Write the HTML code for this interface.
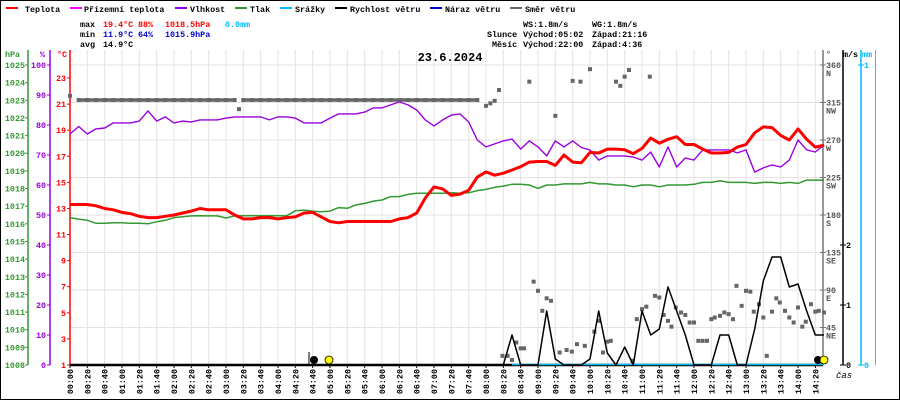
<!DOCTYPE html>
<html><head><meta charset="utf-8">
<style>
html,body{margin:0;padding:0;background:#fff;}
svg{display:block;font-family:"Liberation Mono",monospace;}
</style></head>
<body>
<svg id="chart" width="900" height="400" viewBox="0 0 900 400" xmlns="http://www.w3.org/2000/svg">
<rect x="0.5" y="0.5" width="899" height="399" fill="#fff" stroke="#000"/>
<g id="legend" font-size="8.4" font-weight="bold">
  <g><rect x="6" y="7" width="12" height="2" fill="#f00"/><text x="25" y="12">Teplota</text></g>
  <g><rect x="70" y="7" width="12" height="2" fill="#f0f"/><text x="84" y="12">Přízemní teplota</text></g>
  <g><rect x="175" y="7" width="12" height="2" fill="#9900dd"/><text x="190" y="12">Vlhkost</text></g>
  <g><rect x="235" y="7" width="12" height="2" fill="#339933"/><text x="250" y="12">Tlak</text></g>
  <g><rect x="280" y="7" width="12" height="2" fill="#00bbff"/><text x="295" y="12">Srážky</text></g>
  <g><rect x="335" y="7" width="12" height="2" fill="#000"/><text x="350" y="12">Rychlost větru</text></g>
  <g><rect x="430" y="7" width="12" height="2" fill="#0000cc"/><text x="445" y="12">Náraz větru</text></g>
  <g><rect x="510" y="7" width="12" height="2" fill="#666"/><text x="525" y="12">Směr větru</text></g>
</g>
<g font-size="8.4" font-weight="bold">
  <text x="80" y="27">max</text>
  <text x="103" y="27" fill="#f00">19.4°C</text>
  <text x="138" y="27" fill="#f00">88%</text>
  <text x="165" y="27" fill="#f00">1018.5hPa</text>
  <text x="225" y="27" fill="#00bbff">0.0mm</text>
  <text x="80" y="37">min</text>
  <text x="103" y="37" fill="#0000cc">11.9°C</text>
  <text x="138" y="37" fill="#0000cc">64%</text>
  <text x="165" y="37" fill="#0000cc">1015.9hPa</text>
  <text x="80" y="47">avg</text>
  <text x="103" y="47">14.9°C</text>
  <text x="523" y="27">WS:1.8m/s</text>
  <text x="592" y="27">WG:1.8m/s</text>
  <text x="487" y="37">Slunce</text>
  <text x="523" y="37">Východ:05:02</text>
  <text x="592" y="37">Západ:21:16</text>
  <text x="492" y="47">Měsíc</text>
  <text x="523" y="47">Východ:22:00</text>
  <text x="592" y="47">Západ:4:36</text>
</g>
<text x="450" y="61" text-anchor="middle" font-size="12" font-weight="bold">23.6.2024</text>
<g id="grid"></g>
<g id="axes"></g>
<g id="series"></g>
</svg>
<script>
const temps = [13.3,13.3,13.3,13.2,13.0,12.9,12.7,12.6,12.4,12.3,
12.3,12.4,12.5,12.65,12.8,13.0,12.9,12.9,12.9,12.5,
12.2,12.2,12.3,12.3,12.2,12.3,12.35,12.65,12.7,12.35,
12.0,11.9,12.0,12.0,12.0,12.0,12.0,12.0,12.2,12.3,
12.65,13.8,14.65,14.5,14.0,14.1,14.4,15.4,15.8,15.55,
15.7,15.95,16.2,16.55,16.6,16.6,16.3,17.1,16.55,16.5,
17.3,17.25,17.55,17.55,17.5,17.2,17.6,18.4,18.0,18.3,
18.5,17.9,17.9,17.55,17.25,17.25,17.3,17.7,17.9,18.8,
19.25,19.2,18.6,18.25,19.1,18.3,17.7,17.85];
const humidity = [77,79.5,77,78.7,79,80.7,80.7,80.7,81.3,84.7,
81.3,82.7,80.7,81.3,81,81.7,81.7,81.7,82.3,82.7,
82.7,82.7,82.7,81.7,82.7,82.7,82.3,80.7,80.7,80.7,
82.3,83.7,83.7,83.7,84.3,85.7,85.7,86.7,87.7,86.7,
85,81.7,79.7,81.7,83.3,83.7,81,75,72.7,73.7,
74.7,75.3,72,74.7,72.7,69.7,74.7,72.7,74.7,72.5,
71.7,68.3,69.7,69.7,69.7,69.3,68.3,71,66,72.7,
66,69,68.3,71.7,71.7,71.7,71.7,70.7,71.7,64.3,
65.7,66.7,66,68.3,75,71.7,71,73.3];
const pressure = [1016.35,1016.27,1016.2,1016.03,1016.03,1016.06,1016.06,1016.03,1016.03,1016.0,
1016.12,1016.2,1016.35,1016.4,1016.45,1016.46,1016.45,1016.45,1016.33,1016.45,
1016.46,1016.46,1016.46,1016.46,1016.46,1016.46,1016.74,1016.78,1016.72,1016.68,
1016.72,1016.92,1016.88,1017.07,1017.16,1017.29,1017.35,1017.54,1017.54,1017.67,
1017.73,1017.73,1017.73,1017.73,1017.76,1017.73,1017.76,1017.88,1017.95,1018.07,
1018.14,1018.24,1018.24,1018.2,1018.01,1018.2,1018.2,1018.26,1018.26,1018.26,
1018.35,1018.26,1018.26,1018.2,1018.2,1018.1,1018.2,1018.2,1018.1,1018.2,
1018.2,1018.2,1018.24,1018.35,1018.35,1018.44,1018.35,1018.35,1018.35,1018.29,
1018.35,1018.35,1018.29,1018.35,1018.29,1018.48,1018.48,1018.48];
const windSpeed = [0,0,0,0,0,0,0,0,0,0, 0,0,0,0,0,0,0,0,0,0, 0,0,0,0,0,0,0,0,0,0,
0,0,0,0,0,0,0,0,0,0, 0,0,0,0,0,0,0,0,0,0,
0,0.5,0,0,0,0.9,0.1,0,0,0,
0.1,0.9,0.2,0,0.3,0,0.9,0.5,0.6,1.3,
0.9,0.5,0,0,0,0.5,0.5,0,0,0.6,
1.4,1.8,1.8,1.3,1.35,0.9,0.5,0.5];
const rainTimes = [510,870];
const rainValues = [0,0];
const dirTimes = [0,10,20,30,40,50,60,70,80,90,100,110,120,130,140,150,160,170,180,190,195,200,210,220,230,240,250,260,270,280,290,300,310,320,330,340,350,360,370,380,390,400,410,420,430,440,450,460,470,
480,485,490,495,499,505,510,515,520,524,530,535,540,545,550,555,560,565,573,579,585,
580,589,600,594,605,610,615,620,624,630,635,640,645,649,654,660,665,669,675,680,685,690,694,699,705,710,715,720,725,730,735,740,744,750,755,760,765,769,775,780,785,789,795,800,804,810,815,819,825,830,835,840,845,849,855,860,864,870];
const dirValues = [323,318,318,318,318,318,318,318,318,318,318,318,318,318,318,318,318,318,318,318,307,318,318,318,318,318,318,318,318,318,318,318,318,318,318,318,318,318,318,318,318,318,318,318,318,318,318,318,318,
311,314,317,330,11,11,6,27,20,20,340,100,89,65,80,77,299,15,18,16,25,
341,340,355,23,40,53,15,28,29,340,335,346,354,5,55,67,70,346,83,81,60,53,46,69,63,60,51,51,29,29,29,55,57,59,63,61,55,95,71,89,88,64,73,57,11,64,80,75,65,57,51,69,46,52,73,64,65,63];
const tempTicks = [1,3,5,7,9,11,13,15,17,19,21,23];
const humTicks = [0,10,20,30,40,50,60,70,80,90,100];
const presTicks = [1008,1009,1010,1011,1012,1013,1014,1015,1016,1017,1018,1019,1020,1021,1022,1023,1024,1025];
const dirTicks = [0,45,90,135,180,225,270,315,360];
const dirNames = ["","NE","E","SE","S","SW","W","NW","N"];
const windTicks = [0,1,2];
const rainTicks = [0,1];
const timeTickMinutes = [];
for (let m = 0; m <= 860; m += 20) timeTickMinutes.push(m);

const NS = "http://www.w3.org/2000/svg";
const X0 = 70, X1 = 823, YB = 365, YT = 50;
const xT = m => X0 + m * 17.333 / 20;
const xI = i => xT(i * 10);
const yTemp = t => YB - (t - 1) * 287 / 22;
const yHum = h => YB - h * 3;
const yPres = p => YB - (p - 1008) * 300 / 17;
const yDir = d => YB - d * 300 / 360;
const yWind = w => YB - w * 60;
const yRain = r => YB - r * 300;
function el(tag, attrs, parent) { const e = document.createElementNS(NS, tag); for (const k in attrs) e.setAttribute(k, attrs[k]); parent.appendChild(e); return e; }
function txt(str, attrs, parent) { const t = el('text', attrs, parent); t.textContent = str; return t; }
const grid = document.getElementById('grid'), axes = document.getElementById('axes'), series = document.getElementById('series');

timeTickMinutes.forEach(m => {
  const l = el('line', {x1: xT(m), x2: xT(m), y1: YT, y2: YB, stroke: '#e6e2e2', 'stroke-width': 1}, grid);
  
  
  const x = xT(m);
  const hh = String(Math.floor(m / 60)).padStart(2, '0'), mm = String(m % 60).padStart(2, '0');
  const t = txt(hh + ':' + mm, {x: 0, y: 0, 'font-size': 8.4, 'font-weight': 'bold', 'text-anchor': 'end', transform: `translate(${x + 3},369) rotate(-90)`}, axes);
  
  
  const tk = el('line', {x1: x, x2: x, y1: YB, y2: YB + 3, stroke: '#000'}, axes);
  
  
});
dirTicks.forEach(d => {
  if (d === 0) return;
  const l = el('line', {x1: X0, x2: X1, y1: yDir(d), y2: yDir(d), stroke: '#e6e2e2', 'stroke-width': 1}, grid);
  
  
});

function vAxis(x, color, ticks, yf, labelX, name, anchor) {
  const l = el('line', {x1: x, x2: x, y1: YT, y2: YB, stroke: color, 'stroke-width': 1.5}, axes);
  
  
  ticks.forEach(v => {
    const y = yf(v);
    el('line', {x1: x - 3, x2: x + (anchor === 'end' ? 0 : 3), y1: y, y2: y, stroke: color}, axes);
    const t = txt(String(v), {x: labelX, y: y + 3, fill: color, 'font-size': 8.4, 'font-weight': 'bold', 'text-anchor': anchor}, axes);
    
    
  });
}
vAxis(28, '#339933', presTicks, yPres, 25, 'pressure', 'end');
vAxis(50, '#9900dd', humTicks, yHum, 46, 'humidity', 'end');
vAxis(70, '#ff0000', tempTicks, yTemp, 66, 'temperature', 'end');
vAxis(843, '#000', windTicks, yWind, 846, 'wind-speed', 'start');
vAxis(861, '#00bbff', rainTicks, yRain, 864, 'rain', 'start');
{
  const l = el('line', {x1: X1, x2: X1, y1: YT, y2: YB, stroke: '#777', 'stroke-width': 1.5}, axes);
  
  
  dirTicks.forEach((d, i) => {
    if (d === 0) return;
    const y = yDir(d);
    el('line', {x1: X1 - 3, x2: X1 + 3, y1: y, y2: y, stroke: '#777'}, axes);
    const t = txt(String(d), {x: 826, y: y + 3, fill: '#555', 'font-size': 8.4, 'font-weight': 'bold'}, axes);
    
    
    const n = txt(dirNames[i], {x: 826, y: y + 11, fill: '#555', 'font-size': 8.4, 'font-weight': 'bold'}, axes);
    
    
  });
}
{
  const o = el('line', {x1: 875.5, x2: 875.5, y1: YT, y2: YB, stroke: '#ee8822', 'stroke-width': 1}, axes);
  
  
  const heads = [['hPa', 5, '#339933', 'pressure-axis-title'], ['%', 40, '#9900dd', 'humidity-axis-title'], ['°C', 57, '#ff0000', 'temperature-axis-title'], ['°', 826, '#555', 'direction-axis-title'], ['m/s', 843, '#000', 'wind-axis-title'], ['mm', 862, '#00bbff', 'rain-axis-title']];
  heads.forEach(h => {
    const t = txt(h[0], {x: h[1], y: 57, fill: h[2], 'font-size': 8.4, 'font-weight': 'bold'}, axes);
    
    
  });
  const c = txt('čas', {x: 836, y: 378, 'font-size': 9, 'font-style': 'italic'}, axes);
  
  
}
{
  const b = el('line', {x1: X0, x2: X1, y1: YB, y2: YB, stroke: '#000', 'stroke-width': 2.5}, axes);
  
  
}

function poly(vals, xf, yf, color, w, name) {
  const pts = vals.map((v, i) => xf(i).toFixed(1) + ',' + yf(v).toFixed(1)).join(' ');
  const p = el('polyline', {points: pts, fill: 'none', stroke: color, 'stroke-width': w, 'stroke-linejoin': 'round'}, series);
  
  
}
{
  const pts = rainTimes.map((m, i) => xT(m).toFixed(1) + ',' + (yRain(rainValues[i]) - 0.5).toFixed(1)).join(' ');
  const p = el('polyline', {points: pts, fill: 'none', stroke: '#00bbff', 'stroke-width': 1.5}, series);
  
  
}
dirTimes.forEach((m, i) => {
  const x = xT(m), y = yDir(dirValues[i]);
  if (i > 0 && dirValues[i] === dirValues[i - 1] && m - dirTimes[i - 1] <= 10 && m < 480) {
    const s = el('line', {x1: xT(dirTimes[i - 1]), x2: x, y1: y, y2: y, stroke: '#666', 'stroke-width': 3.5, 'stroke-dasharray': '10 3'}, series);
    
    
  }
  const r = el('rect', {x: x - 2, y: y - 2, width: 4, height: 4, fill: '#666'}, series);
  
  
});
poly(pressure, xI, yPres, '#339933', 1.5, 'pressure-line');
poly(humidity, xI, yHum, '#9900dd', 1.4, 'humidity-line');
poly(windSpeed, xI, yWind, '#000', 1.5, 'wind-speed-line');
poly(temps, xI, yTemp, '#ff0000', 3, 'temperature-line');

{
  const g = el('g', {}, series);
  
  
  el('line', {x1: 309, x2: 309, y1: 352, y2: 365, stroke: '#000'}, g);
  el('circle', {cx: 314, cy: 360, r: 4, fill: '#000'}, g);
  el('circle', {cx: 329, cy: 360, r: 4, fill: '#ffff00', stroke: '#000', 'stroke-width': 0.8}, g);
  el('circle', {cx: 818, cy: 360, r: 4, fill: '#000'}, g);
  el('circle', {cx: 824, cy: 360, r: 4, fill: '#ffff00', stroke: '#000', 'stroke-width': 0.8}, g);
}
</script>
</body></html>
